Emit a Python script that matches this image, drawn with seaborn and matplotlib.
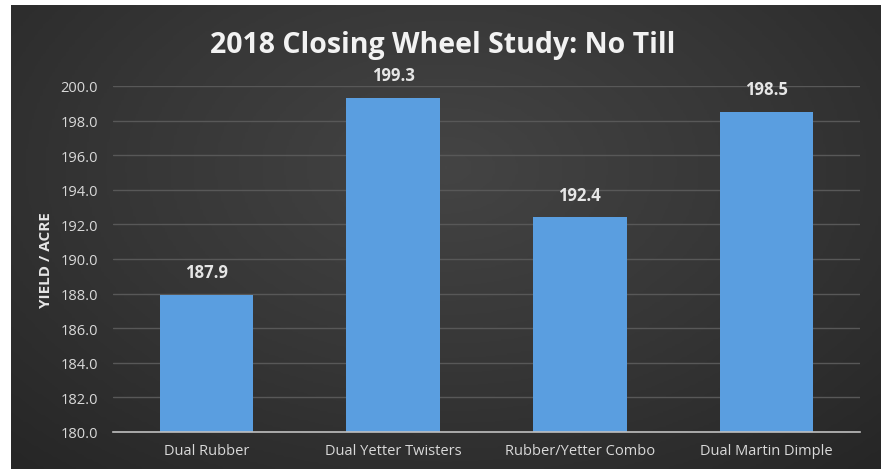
import matplotlib
matplotlib.use("Agg")
import matplotlib.pyplot as plt
from matplotlib.colors import LinearSegmentedColormap
import numpy as np
import seaborn as sns
import pandas as pd

categories = ["Dual Rubber", "Dual Yetter Twisters", "Rubber/Yetter Combo", "Dual Martin Dimple"]
values = [187.9, 199.3, 192.4, 198.5]
yticks = [180.0, 182.0, 184.0, 186.0, 188.0, 190.0, 192.0, 194.0, 196.0, 198.0, 200.0]
title = "2018 Closing Wheel Study: No Till"
ylabel = "YIELD / ACRE"

sns.set_theme(style="dark")
plt.rcParams['font.family'] = ['Open Sans', 'DejaVu Sans']

W, H = 882, 477
fig = plt.figure(figsize=(W / 100, H / 100), dpi=100)
fig.patch.set_facecolor("white")

# dark panel with soft radial shading
bgax = fig.add_axes([11 / W, 1 - 470 / H, (880 - 11) / W, (470 - 6) / H], zorder=-5)
bgax.set_axis_off()
yy, xx = np.mgrid[0:1:200j, 0:1:300j]
r = np.sqrt(((xx - 0.5) / 0.75) ** 2 + ((yy - 0.35) / 0.9) ** 2)
shade = np.clip(r, 0, 1)
cmap = LinearSegmentedColormap.from_list("bgshade", ["#444444", "#363636", "#262626"])
bgax.imshow(shade, cmap=cmap, aspect="auto", extent=[0, 1, 0, 1], origin="upper")

ax = fig.add_axes([113 / W, 1 - 433 / H, (860 - 113) / W, (433 - 87) / H])
ax.set_facecolor("none")

df = pd.DataFrame({"cat": categories, "val": values})
sns.barplot(data=df, x="cat", y="val", color="#5a9ee0", width=0.5, ax=ax,
            saturation=1, edgecolor="none", zorder=3)

ax.set_ylim(180, 200)
ax.set_xlim(-0.5, 3.5)
ax.set_yticks(yticks)
ax.set_yticklabels([f"{t:.1f}" for t in yticks])
ax.grid(axis="y", color="#585858", linewidth=1, zorder=0)
ax.grid(axis="x", visible=False)
for s in ["top", "right", "left"]:
    ax.spines[s].set_visible(False)
ax.spines["bottom"].set_color("#bfbfbf")
ax.spines["bottom"].set_linewidth(1.2)
ax.spines["bottom"].set_zorder(4)
ax.tick_params(axis="both", length=0, colors="#d9d9d9", labelsize=10.5)
ax.tick_params(axis="y", pad=11)
ax.tick_params(axis="x", pad=8)

ax.set_xlabel("")
ax.set_ylabel(ylabel, color="#e6e6e6", fontsize=11, fontweight="bold", labelpad=5)

for i, v in enumerate(values):
    ax.annotate(f"{v:.1f}", (i, v), xytext=(0, 10), textcoords="offset points",
                ha="center", va="bottom", color="#e6e6e6", fontsize=12, fontweight="bold")

fig.text(443 / W, 1 - 46 / H, title, ha="center", va="center", color="#f2f2f2",
         fontsize=20.5, fontweight="bold")

fig.savefig("out.png", dpi=100)
